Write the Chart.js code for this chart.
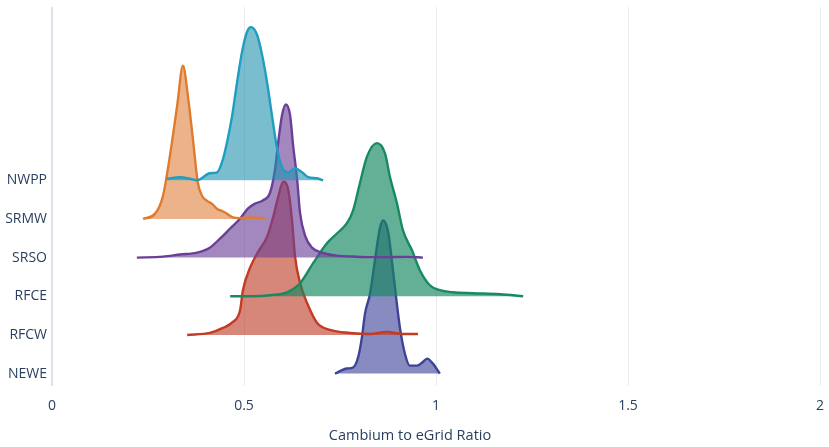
<!DOCTYPE html>
<html>
<head>
<meta charset="utf-8">
<script src="https://cdn.jsdelivr.net/npm/chart.js@4.4.1/dist/chart.umd.min.js"></script>
<style>
  html, body { margin: 0; padding: 0; background: #fff; }
  #wrap { width: 829px; height: 447px; }
</style>
</head>
<body>
<div id="wrap"><canvas id="ridges"></canvas></div>
<script>
// regions, bottom to top
const regions = ['NEWE', 'RFCW', 'RFCE', 'SRSO', 'SRMW', 'NWPP'];

// ratio (x) and relative density (peak = 1)
const neweX = [0.737, 0.768, 0.784, 0.797, 0.807, 0.815, 0.828, 0.841, 0.854, 0.862, 0.875, 0.885, 0.896, 0.906, 0.919, 0.932, 0.951, 0.964, 0.977, 0.992, 1.010];
const neweD = [0, 0.033, 0.04, 0.105, 0.235, 0.39, 0.52, 0.74, 0.95, 1.0, 0.93, 0.74, 0.50, 0.30, 0.13, 0.052, 0.052, 0.072, 0.098, 0.065, 0];

const rfcwX = [0.352, 0.411, 0.445, 0.471, 0.490, 0.497, 0.516, 0.536, 0.560, 0.576, 0.589, 0.602, 0.615, 0.625, 0.633, 0.646, 0.664, 0.690, 0.724, 0.776, 0.828, 0.872, 0.914, 0.953];
const rfcwD = [0, 0.013, 0.046, 0.085, 0.163, 0.29, 0.44, 0.54, 0.64, 0.77, 0.90, 1.0, 0.95, 0.75, 0.51, 0.34, 0.21, 0.08, 0.033, 0.013, 0.006, 0.02, 0.006, 0.006];

const rfceX = [0.464, 0.523, 0.568, 0.612, 0.646, 0.680, 0.716, 0.742, 0.768, 0.784, 0.802, 0.820, 0.846, 0.867, 0.880, 0.898, 0.914, 0.9375, 0.958, 0.984, 1.010, 1.044, 1.096, 1.167, 1.227];
const rfceD = [0, 0, 0.007, 0.026, 0.085, 0.216, 0.346, 0.41, 0.477, 0.56, 0.74, 0.91, 1.0, 0.935, 0.78, 0.61, 0.43, 0.30, 0.17, 0.072, 0.04, 0.026, 0.02, 0.013, 0];

const srsoX = [0.221, 0.289, 0.333, 0.378, 0.411, 0.4375, 0.464, 0.490, 0.510, 0.529, 0.549, 0.568, 0.581, 0.589, 0.599, 0.609, 0.620, 0.628, 0.638, 0.646, 0.659, 0.677, 0.703, 0.742, 0.784, 0.828, 0.872, 0.924, 0.966];
const srsoD = [0, 0.006, 0.02, 0.033, 0.065, 0.124, 0.19, 0.255, 0.32, 0.353, 0.373, 0.425, 0.58, 0.75, 0.93, 1.0, 0.93, 0.73, 0.52, 0.29, 0.144, 0.065, 0.033, 0.013, 0.007, 0.003, 0.003, 0.005, 0];

const srmwX = [0.237, 0.268, 0.289, 0.307, 0.326, 0.341, 0.354, 0.367, 0.380, 0.391, 0.404, 0.417, 0.430, 0.443, 0.456, 0.471, 0.490, 0.516, 0.555];
const srmwD = [0, 0.033, 0.15, 0.41, 0.74, 1.0, 0.80, 0.52, 0.235, 0.15, 0.118, 0.098, 0.065, 0.052, 0.033, 0.01, 0.005, 0.01, 0.005];

const nwppX = [0.299, 0.333, 0.359, 0.378, 0.411, 0.430, 0.443, 0.456, 0.469, 0.482, 0.495, 0.508, 0.518, 0.534, 0.547, 0.560, 0.573, 0.586, 0.599, 0.615, 0.633, 0.651, 0.667, 0.690, 0.706];
const nwppD = [0.01, 0.02, 0.01, 0.0, 0.046, 0.052, 0.12, 0.25, 0.42, 0.64, 0.84, 0.97, 1.0, 0.95, 0.82, 0.64, 0.42, 0.21, 0.085, 0.052, 0.078, 0.052, 0.02, 0.013, 0];

const xTicks = [0, 0.5, 1, 1.5, 2];
const xTickLabels = ['0', '0.5', '1', '1.5', '2'];

const seriesX = [neweX, rfcwX, rfceX, srsoX, srmwX, nwppX];
const seriesD = [neweD, rfcwD, rfceD, srsoD, srmwD, nwppD];
const lineColors = ['#3d4497', '#c23b22', '#178a62', '#6b3f98', '#e07b2e', '#1f9ec0'];
const fillColors = ['rgba(61,68,151,0.62)', 'rgba(190,60,40,0.62)', 'rgba(20,135,95,0.66)', 'rgba(107,63,152,0.62)', 'rgba(224,128,60,0.6)', 'rgba(31,145,175,0.6)'];

const ridgeHeight = 3.96; // peak height in row units

const datasets = regions.map((name, i) => ({
  label: name,
  data: seriesX[i].map((x, k) => ({ x: x, y: i + seriesD[i][k] * ridgeHeight })),
  borderColor: lineColors[i],
  backgroundColor: fillColors[i],
  borderWidth: 2.4,
  pointRadius: 0,
  cubicInterpolationMode: 'monotone',
  fill: { value: i },
  order: regions.length - i
}));

const textColor = '#2a3f5f';

new Chart(document.getElementById('ridges'), {
  type: 'line',
  data: { datasets: datasets },
  options: {
    responsive: true,
    maintainAspectRatio: false,
    animation: false,
    layout: { padding: { top: 7, right: 9, left: 0, bottom: 0 } },
    plugins: {
      legend: { display: false },
      tooltip: { enabled: false },
      title: {
        display: true,
        position: 'bottom',
        text: 'Cambium to eGrid Ratio',
        color: textColor,
        font: { family: 'Open Sans', size: 14.5, weight: 'normal', lineHeight: 1.2 },
        padding: { top: 4, bottom: 2 }
      }
    },
    scales: {
      x: {
        type: 'linear',
        min: 0,
        max: 2,
        afterBuildTicks: (scale) => { scale.ticks = xTicks.map(v => ({ value: v })); },
        afterFit: (scale) => {
          scale.height = 38;
          scale.paddingLeft = 0;
          scale.paddingRight = 0;
        },
        grid: {
          drawTicks: false,
          color: (c) => c.tick && c.tick.value === 0 ? '#dce3ec' : '#ebebeb',
          lineWidth: (c) => c.tick && c.tick.value === 0 ? 2 : 1
        },
        border: { display: false },
        ticks: {
          padding: 12,
          color: textColor,
          font: { family: 'Open Sans', size: 14 },
          callback: (v, idx) => xTickLabels[idx]
        }
      },
      y: {
        type: 'linear',
        min: -0.31,
        max: 9.48,
        afterBuildTicks: (scale) => { scale.ticks = regions.map((r, i) => ({ value: i })); },
        afterFit: (scale) => {
          scale.width = 52;
          scale.paddingTop = 0;
          scale.paddingBottom = 0;
        },
        grid: { display: false, drawTicks: false },
        border: { display: false },
        ticks: {
          autoSkip: false,
          padding: 5,
          color: textColor,
          font: { family: 'Open Sans', size: 14 },
          callback: (v) => regions[v]
        }
      }
    }
  }
});
</script>
</body>
</html>
